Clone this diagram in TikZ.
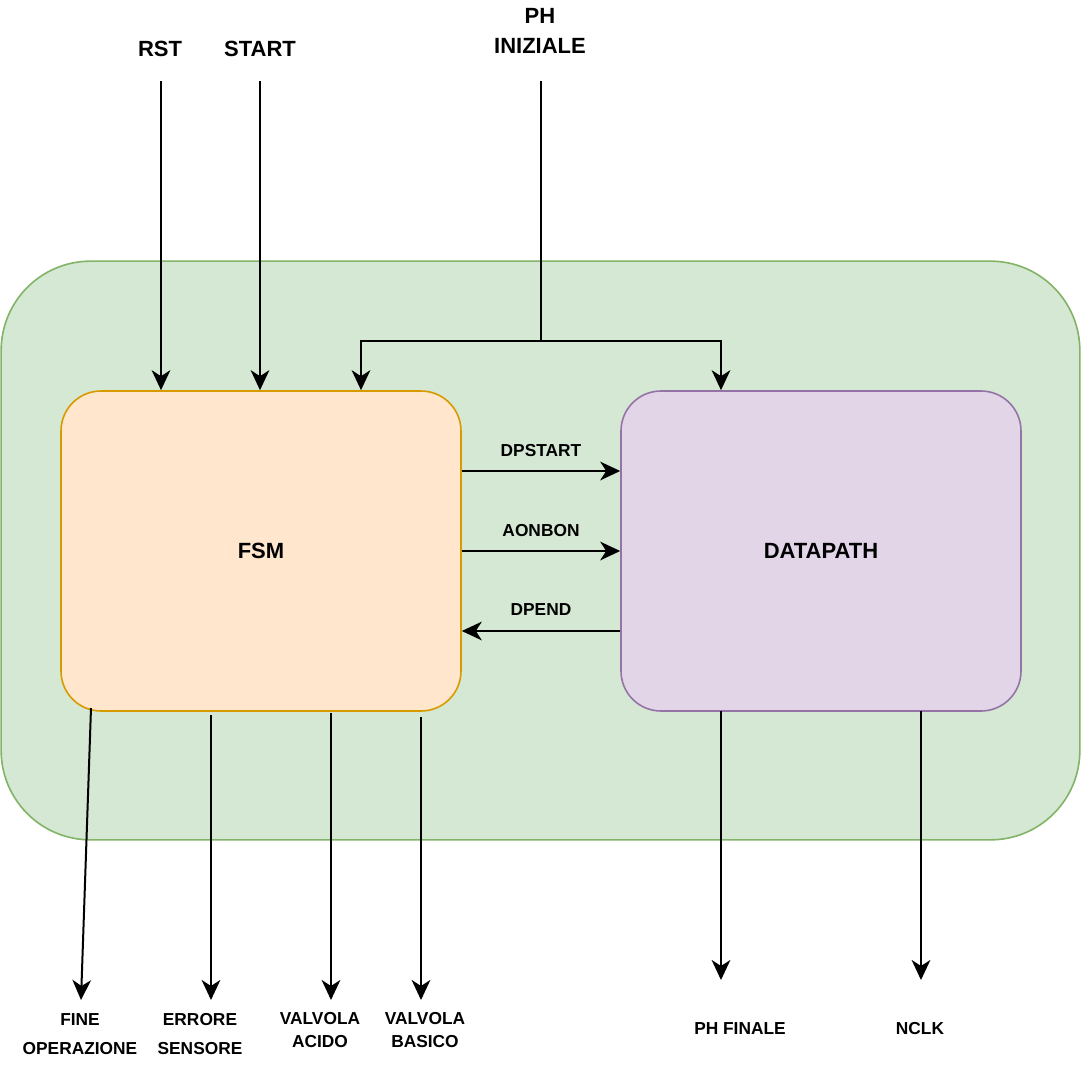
\documentclass[tikz,border=0pt]{standalone}
\usepackage{fontspec}
\setmainfont{Liberation Sans}
\usetikzlibrary{arrows.meta,positioning}
\definecolor{gfill}{HTML}{D5E8D4}
\definecolor{gline}{HTML}{82B366}
\definecolor{ofill}{HTML}{FFE6CC}
\definecolor{oline}{HTML}{D79B00}
\definecolor{pfill}{HTML}{E1D5E7}
\definecolor{pline}{HTML}{9673A6}
\tikzset{
  arr/.style={line width=1.5pt,-{Stealth[length=15pt,width=14pt,inset=4.5pt]}},
  ln/.style={line width=1.5pt},
  blk/.style={draw, line width=1.2pt, rounded corners=30pt, minimum width=300pt, minimum height=240pt, inner sep=0pt, font=\fontsize{16.5}{18}\selectfont\bfseries},
  big/.style={font=\fontsize{16.5}{22.5}\selectfont\bfseries, align=center, inner sep=0pt},
  sml/.style={font=\fontsize{13}{17}\selectfont\bfseries, align=center, inner sep=0pt},
}
\begin{document}
\begin{tikzpicture}[x=0.75pt,y=-0.75pt]
\useasboundingbox (0,0) rectangle (1082,1078);
% container
\node[draw=gline, fill=gfill, line width=1.2pt, rounded corners=67pt, minimum width=809pt, minimum height=434pt, inner sep=0pt] (cont) at (540.5,550.5) {};
\node[blk, draw=oline, fill=ofill] (fsm) at (261,551) {FSM};
\node[blk, draw=pline, fill=pfill] (dp) at (821,551) {DATAPATH};
% top labels
\node[big] (rst) at (160,49) {RST};
\node[big] (start) at (260,49) {START};
\node[big] (ph) at (540,31) {PH\\INIZIALE};
\coordinate (rst0) at (161,81);
\coordinate (start0) at (260,81);
\coordinate (ph0) at (541,81);
\coordinate (split) at (541,341);
\coordinate (phl) at (361,341);
\coordinate (phr) at (721,341);
\draw[arr] (rst0) -- (rst0 |- fsm.north);
\draw[arr] (start0) -- (start0 |- fsm.north);
\draw[ln] (ph0) -- (split);
\draw[arr] (split) -- (phl) -- (phl |- fsm.north);
\draw[arr] (split) -- (phr) -- (phr |- dp.north);
% internal signals
\coordinate (y1) at (0,471);
\coordinate (y2) at (0,551);
\coordinate (y3) at (0,631);
\draw[arr] (fsm.east |- y1) -- node[sml, above=10pt] (l1) {DPSTART} (dp.west |- y1);
\draw[arr] (fsm.east |- y2) -- node[sml, above=10pt] (l2) {AONBON} (dp.west |- y2);
\draw[arr] (dp.west |- y3) -- node[sml, above=11pt] (l3) {DPEND} (fsm.east |- y3);
% outputs
\node[sml] (o1) at (80,1034) {FINE\\[5pt]OPERAZIONE};
\node[sml] (o2) at (200,1034) {ERRORE\\[5pt]SENSORE};
\node[sml] (o3) at (320,1030) {VALVOLA\\ACIDO};
\node[sml] (o4) at (425,1030) {VALVOLA\\BASICO};
\node[sml] (o5) at (740,1029) {PH FINALE};
\node[sml] (o6) at (920,1029) {NCLK};
\coordinate (a1) at (91,708);   \coordinate (b1) at (81,1000);
\coordinate (a2) at (211,715);  \coordinate (b2) at (211,1000);
\coordinate (a3) at (331,713);  \coordinate (b3) at (331,1000);
\coordinate (a4) at (421,717);  \coordinate (b4) at (421,1000);
\coordinate (a5) at (721,711);  \coordinate (b5) at (721,980);
\coordinate (a6) at (921,711);  \coordinate (b6) at (921,980);
\draw[arr] (a1) -- (b1);
\draw[arr] (a2) -- (b2);
\draw[arr] (a3) -- (b3);
\draw[arr] (a4) -- (b4);
\draw[arr] (a5) -- (b5);
\draw[arr] (a6) -- (b6);
\end{tikzpicture}
\end{document}
